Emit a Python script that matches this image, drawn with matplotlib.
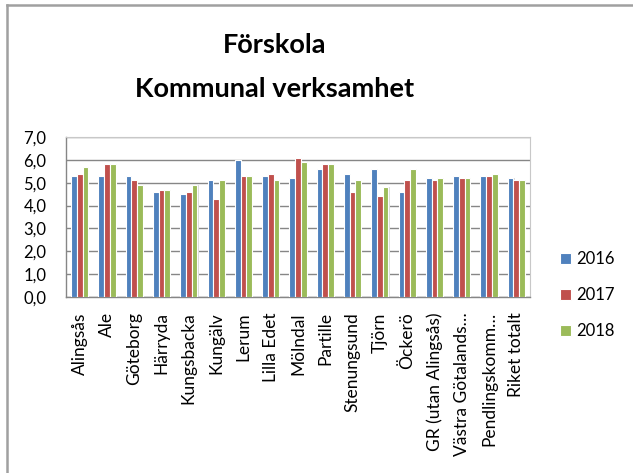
import matplotlib
matplotlib.use("Agg")
import matplotlib.pyplot as plt
import numpy as np
from matplotlib.lines import Line2D

plt.rcParams['font.family'] = ['Lato', 'DejaVu Sans']

categories = ["Alingsås", "Ale", "Göteborg", "Härryda", "Kungsbacka", "Kungälv",
              "Lerum", "Lilla Edet", "Mölndal", "Partille", "Stenungsund", "Tjörn",
              "Öckerö", "GR (utan Alingsås)", "Västra Götalands…", "Pendlingskomm…",
              "Riket totalt"]
v2016 = [5.3, 5.3, 5.3, 4.6, 4.5, 5.1, 6.0, 5.3, 5.2, 5.6, 5.4, 5.6, 4.6, 5.2, 5.3, 5.3, 5.2]
v2017 = [5.4, 5.8, 5.1, 4.7, 4.6, 4.3, 5.3, 5.4, 6.1, 5.8, 4.6, 4.4, 5.1, 5.1, 5.2, 5.3, 5.1]
v2018 = [5.7, 5.8, 4.9, 4.7, 4.9, 5.1, 5.3, 5.1, 5.9, 5.8, 5.1, 4.8, 5.6, 5.2, 5.2, 5.4, 5.1]
series_labels = ["2016", "2017", "2018"]
colors = ["#4F81BD", "#C0504D", "#9BBB59"]
yticks = [0, 1, 2, 3, 4, 5, 6, 7]

fig = plt.figure(figsize=(6.33, 4.73), dpi=100)
ax = fig.add_axes([66/633, 1-297/473, (530-66)/633, (297-137)/473])

x = np.arange(len(categories))
w = 0.21
for i, (vals, c, lab) in enumerate(zip([v2016, v2017, v2018], colors, series_labels)):
    off = (i - 1) * w
    # subtle shadow
    ax.bar(x + off + 0.04, vals, width=w, color="#dcdcdc", edgecolor="none", zorder=2)
    ax.bar(x + off, vals, width=w, color=c, edgecolor="white", linewidth=0.8,
           label=lab, zorder=3)

ax.set_xlim(-0.5, len(categories) - 0.5)
ax.set_ylim(0, 7)
ax.set_yticks(yticks)
ax.set_yticklabels([f"{t:.1f}".replace(".", ",") for t in yticks], fontsize=12)
ax.yaxis.grid(True, color="#868686", linewidth=1.0, zorder=0)
ax.set_axisbelow(True)
ax.set_xticks(x)
ax.set_xticklabels(categories, rotation=90, fontsize=12.5, va="top")
ax.tick_params(axis="both", length=0)
ax.tick_params(axis="x", pad=11)
ax.tick_params(axis="y", pad=14)
for s in ["left", "bottom"]:
    ax.spines[s].set_color("#868686")
    ax.spines[s].set_linewidth(1.0)
for s in ["top", "right"]:
    ax.spines[s].set_color("#c8c8c8")
    ax.spines[s].set_linewidth(0.8)

fig.text(275/633, 1-45/473, "Förskola", ha="center", va="center",
         fontsize=19.5, fontweight="bold")
fig.text(275/633, 1-89/473, "Kommunal verksamhet", ha="center", va="center",
         fontsize=19.5, fontweight="bold")

handles, labels = ax.get_legend_handles_labels()
fig.legend(handles, labels, loc="center left", bbox_to_anchor=(560/633, 1-295/473),
           frameon=False, fontsize=12, handlelength=0.65, handleheight=0.65,
           labelspacing=1.2, handletextpad=0.35, borderpad=0, borderaxespad=0)

# outer border (left and top only visible)
fig.add_artist(Line2D([7/633, 7/633], [0, 1-5/473], color="#a0a0a0", linewidth=1.8,
                      transform=fig.transFigure))
fig.add_artist(Line2D([7/633, 1], [1-5/473, 1-5/473], color="#a0a0a0", linewidth=1.8,
                      transform=fig.transFigure))

fig.savefig("out.png", dpi=100, facecolor="white")
